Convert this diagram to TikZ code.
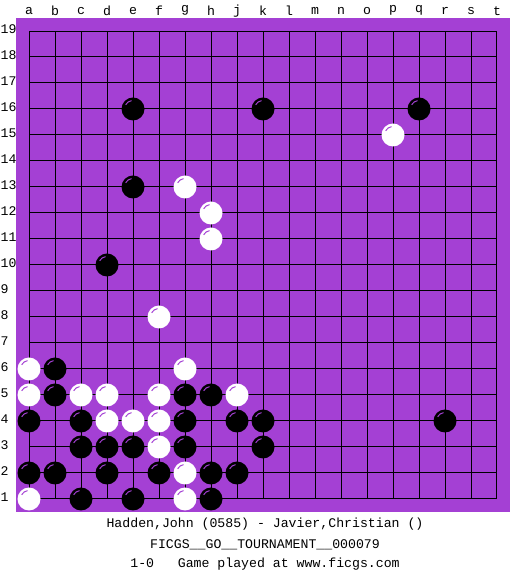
\documentclass[tikz,border=0pt]{standalone}
\usepackage{fontspec}
\setmonofont{Liberation Mono}
\definecolor{boardpurple}{RGB}{164,64,212}

\begin{document}
\begin{tikzpicture}[x=1pt,y=1pt,
  stone/.style={circle,inner sep=0pt,minimum size=23pt},
  blackstone/.style={stone,fill=black},
  whitestone/.style={stone,fill=white},
  glint/.style={draw=boardpurple,line width=1pt},
  boardlabel/.style={font=\ttfamily\fontsize{13.2}{15}\selectfont,inner sep=0pt},
  infotext/.style={boardlabel,anchor=base}]
\useasboundingbox (0,0) rectangle (525,575);
\fill[white] (0,0) rectangle (525,575);
\begin{scope}[shift={(3,50)},x=26pt,y=26pt]
\fill[boardpurple] (0.5,0.5) rectangle (19.5,19.5);
\draw[line width=1pt,step=1] (1,1) grid (19,19);
\node[boardlabel] (col-a) at (1,19.78) {a};
\node[boardlabel] (col-b) at (2,19.78) {b};
\node[boardlabel] (col-c) at (3,19.78) {c};
\node[boardlabel] (col-d) at (4,19.78) {d};
\node[boardlabel] (col-e) at (5,19.78) {e};
\node[boardlabel] (col-f) at (6,19.78) {f};
\node[boardlabel] (col-g) at (7,19.78) {g};
\node[boardlabel] (col-h) at (8,19.78) {h};
\node[boardlabel] (col-j) at (9,19.78) {j};
\node[boardlabel] (col-k) at (10,19.78) {k};
\node[boardlabel] (col-l) at (11,19.78) {l};
\node[boardlabel] (col-m) at (12,19.78) {m};
\node[boardlabel] (col-n) at (13,19.78) {n};
\node[boardlabel] (col-o) at (14,19.78) {o};
\node[boardlabel] (col-p) at (15,19.78) {p};
\node[boardlabel] (col-q) at (16,19.78) {q};
\node[boardlabel] (col-r) at (17,19.78) {r};
\node[boardlabel] (col-s) at (18,19.78) {s};
\node[boardlabel] (col-t) at (19,19.78) {t};
\node[boardlabel,anchor=west] (row-19) at (-0.1,19.08) {19};
\node[boardlabel,anchor=west] (row-18) at (-0.1,18.08) {18};
\node[boardlabel,anchor=west] (row-17) at (-0.1,17.08) {17};
\node[boardlabel,anchor=west] (row-16) at (-0.1,16.08) {16};
\node[boardlabel,anchor=west] (row-15) at (-0.1,15.08) {15};
\node[boardlabel,anchor=west] (row-14) at (-0.1,14.08) {14};
\node[boardlabel,anchor=west] (row-13) at (-0.1,13.08) {13};
\node[boardlabel,anchor=west] (row-12) at (-0.1,12.08) {12};
\node[boardlabel,anchor=west] (row-11) at (-0.1,11.08) {11};
\node[boardlabel,anchor=west] (row-10) at (-0.1,10.08) {10};
\node[boardlabel,anchor=west] (row-9) at (-0.1,9.08) {9};
\node[boardlabel,anchor=west] (row-8) at (-0.1,8.08) {8};
\node[boardlabel,anchor=west] (row-7) at (-0.1,7.08) {7};
\node[boardlabel,anchor=west] (row-6) at (-0.1,6.08) {6};
\node[boardlabel,anchor=west] (row-5) at (-0.1,5.08) {5};
\node[boardlabel,anchor=west] (row-4) at (-0.1,4.08) {4};
\node[boardlabel,anchor=west] (row-3) at (-0.1,3.08) {3};
\node[boardlabel,anchor=west] (row-2) at (-0.1,2.08) {2};
\node[boardlabel,anchor=west] (row-1) at (-0.1,1.08) {1};
% black
\node[blackstone] (e16) at (5,16) {};
\node[blackstone] (k16) at (10,16) {};
\node[blackstone] (q16) at (16,16) {};
\node[blackstone] (e13) at (5,13) {};
\node[blackstone] (d10) at (4,10) {};
\node[blackstone] (b6) at (2,6) {};
\node[blackstone] (b5) at (2,5) {};
\node[blackstone] (g5) at (7,5) {};
\node[blackstone] (h5) at (8,5) {};
\node[blackstone] (a4) at (1,4) {};
\node[blackstone] (c4) at (3,4) {};
\node[blackstone] (g4) at (7,4) {};
\node[blackstone] (j4) at (9,4) {};
\node[blackstone] (k4) at (10,4) {};
\node[blackstone] (r4) at (17,4) {};
\node[blackstone] (c3) at (3,3) {};
\node[blackstone] (d3) at (4,3) {};
\node[blackstone] (e3) at (5,3) {};
\node[blackstone] (g3) at (7,3) {};
\node[blackstone] (k3) at (10,3) {};
\node[blackstone] (a2) at (1,2) {};
\node[blackstone] (b2) at (2,2) {};
\node[blackstone] (d2) at (4,2) {};
\node[blackstone] (f2) at (6,2) {};
\node[blackstone] (h2) at (8,2) {};
\node[blackstone] (j2) at (9,2) {};
\node[blackstone] (c1) at (3,1) {};
\node[blackstone] (e1) at (5,1) {};
\node[blackstone] (h1) at (8,1) {};
% white
\node[whitestone] (p15) at (15,15) {};
\node[whitestone] (g13) at (7,13) {};
\node[whitestone] (h12) at (8,12) {};
\node[whitestone] (h11) at (8,11) {};
\node[whitestone] (f8) at (6,8) {};
\node[whitestone] (a6) at (1,6) {};
\node[whitestone] (g6) at (7,6) {};
\node[whitestone] (a5) at (1,5) {};
\node[whitestone] (c5) at (3,5) {};
\node[whitestone] (d5) at (4,5) {};
\node[whitestone] (f5) at (6,5) {};
\node[whitestone] (j5) at (9,5) {};
\node[whitestone] (d4) at (4,4) {};
\node[whitestone] (e4) at (5,4) {};
\node[whitestone] (f4) at (6,4) {};
\node[whitestone] (f3) at (6,3) {};
\node[whitestone] (g2) at (7,2) {};
\node[whitestone] (a1) at (1,1) {};
\node[whitestone] (g1) at (7,1) {};
% highlights
\foreach \s in {e16,k16,q16,e13,d10,b6,b5,g5,h5,a4,c4,g4,j4,k4,r4,c3,d3,e3,g3,k3,a2,b2,d2,f2,h2,j2,c1,e1,h1,
  p15,g13,h12,h11,f8,a6,g6,a5,c5,d5,f5,j5,d4,e4,f4,f3,g2,a1,g1}
  \draw[glint] ([shift={(100:8.5pt)}]\s.center) arc[start angle=100,end angle=150,radius=8.5pt];
\end{scope}

\node[infotext] (players) at (265,47) {Hadden,John (0585) - Javier,Christian ()};
\node[infotext] (event) at (265,27) {FICGS\_\_GO\_\_TOURNAMENT\_\_000079};
\node[infotext] (result) at (265,7) {1-0\ \ \ Game played at www.ficgs.com};

\end{tikzpicture}
\end{document}
